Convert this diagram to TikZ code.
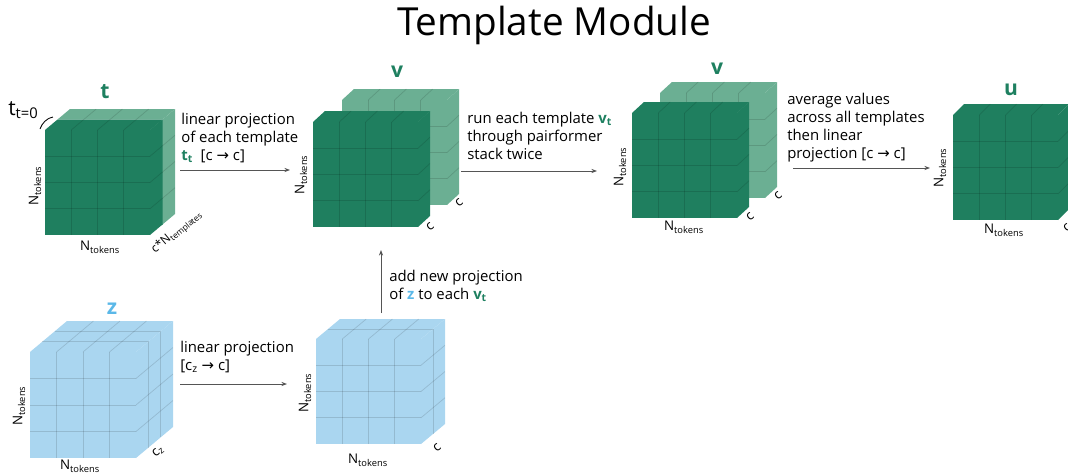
\documentclass[tikz,border=0pt]{standalone}
\usepackage{fontspec}
\setmainfont{Open Sans}
\newfontfamily\symfont{DejaVu Sans}
\usetikzlibrary{arrows.meta}

\definecolor{tgreen}{HTML}{1F7F5F}
\definecolor{tgreenlt}{HTML}{6BAF93}
\definecolor{zblue}{HTML}{AAD6F0}
\definecolor{zlabel}{HTML}{5BB8E8}
\definecolor{vlabel}{HTML}{1E8060}
\definecolor{arrgray}{HTML}{555555}

\newcommand{\sub}[1]{\textsubscript{#1}}
\newcommand{\ntok}{N\sub{tokens}}
\newcommand{\rarr}{{\symfont →}}
\newcommand{\gv}[1]{{\color{vlabel}\bfseries #1}}

% #1,#2 front top-left, #3 size, #4,#5 depth, #6 front fill, #7 top/side fill, #8 depth cells
\newcommand{\slab}[8]{%
  \begin{scope}[shift={(#1,#2)}]
    \fill[#7] (0,0) -- (#3,0) -- ++(#4,#5) -- ++(-#3,0) -- cycle;
    \fill[#7] (#3,0) -- (#3,#3) -- ++(#4,#5) -- ++(0,-#3) -- cycle;
    \fill[#6] (0,0) rectangle (#3,#3);
    \foreach \i in {1,2,3} {
      \draw[gridline] (\i*#3/4,0) -- (\i*#3/4,#3);
      \draw[gridline] (0,\i*#3/4) -- (#3,\i*#3/4);
      \draw[gridline] (\i*#3/4,0) -- ++(#4,#5);
      \draw[gridline] (#3,\i*#3/4) -- ++(#4,#5);
    }
    \ifnum#8>1
      \pgfmathtruncatemacro\kmax{#8-1}
      \foreach \k in {1,...,\kmax} {
        \draw[gridline] (\k*#4/#8,\k*#5/#8) -- ++(#3,0) -- ++(0,#3);
      }
    \fi
  \end{scope}}

\begin{document}
\begin{tikzpicture}[x=0.025cm,y=-0.025cm,
  gridline/.style={draw=black,opacity=0.13,line width=0.5pt},
  lbl/.style={font=\bfseries\fontsize{15}{18}\selectfont,anchor=base,inner sep=0},
  dim/.style={font=\fontsize{9.5}{11}\selectfont,inner sep=0},
  note/.style={font=\fontsize{10.6}{12.8}\selectfont,align=left,anchor=north west,inner sep=0},
  flow/.style={draw=arrgray,line width=0.7pt,-{Stealth[length=4pt,width=3pt]}}]
\useasboundingbox (0,0) rectangle (1068,475);

\node[font=\fontsize{27.5}{30}\selectfont,anchor=base] (title) at (554,35) {Template Module};

% template stack t
\slab{57.5}{119.5}{105}{12.5}{-10.5}{tgreenlt}{tgreenlt}{1}
\slab{45}{130}{105}{12.5}{-10.5}{tgreen}{tgreen}{1}
\node[lbl,text=vlabel] (tlab) at (105,98) {t};
\node[anchor=base west,inner sep=0,font=\fontsize{15}{17}\selectfont] (t0) at (8,115) {t\sub{t=0}};
\draw[line width=0.6pt] (40,129) .. controls (42,123) and (47,118) .. (53,117);
\node[dim,rotate=90] (tnl) at (35,186) {\ntok};
\node[dim] (tnb) at (100,247) {\ntok};
\node[dim,rotate=40,font=\fontsize{8.5}{10}\selectfont] (tnd) at (177,232) {c*N\sub{templates}};

% v after projection
\slab{342}{100}{105}{12}{-11}{tgreenlt}{tgreenlt}{1}
\slab{313}{122}{105}{12}{-11}{tgreen}{tgreen}{1}
\node[lbl,text=vlabel] (v1lab) at (397,77) {v};
\node[dim,rotate=90] (v1nl) at (301,175) {\ntok};
\node[dim,rotate=40] (v1c) at (430,227) {c};
\node[dim,rotate=40] (v1cb) at (459,203) {c};

% v after pairformer
\slab{660}{93}{105}{12}{-11}{tgreenlt}{tgreenlt}{1}
\slab{632}{113}{105}{12}{-11}{tgreen}{tgreen}{1}
\node[lbl,text=vlabel] (v2lab) at (717,74) {v};
\node[dim,rotate=90] (v2nl) at (620,167) {\ntok};
\node[dim] (v2nb) at (684,227) {\ntok};
\node[dim,rotate=40] (v2c) at (750,217) {c};
\node[dim,rotate=40] (v2cb) at (778,196) {c};

% u
\slab{953}{115}{105}{11}{-11}{tgreen}{tgreen}{1}
\node[lbl,text=vlabel] (ulab) at (1011,95) {u};
\node[dim,rotate=90] (unl) at (940,168) {\ntok};
\node[dim] (unb) at (1004,230) {\ntok};
\node[dim,rotate=40] (uc) at (1067,228) {c};

% z
\slab{30}{352}{106}{37}{-31}{zblue}{zblue}{3}
\node[lbl,text=zlabel] (zlab) at (112,314) {z};
\node[dim,rotate=90] (znl) at (19,406) {\ntok};
\node[dim] (znb) at (80,466) {\ntok};
\node[dim,rotate=40] (zc) at (158,452) {c\sub{z}};

% z projected
\slab{316}{339}{105}{24}{-20}{zblue}{zblue}{2}
\node[dim,rotate=90] (z2nl) at (305,393) {\ntok};
\node[dim] (z2nb) at (368,460) {\ntok};
\node[dim,rotate=40] (z2c) at (437,448) {c};

% arrows and notes
\coordinate (a1s) at (180,170);
\coordinate (a1e) at (290,170);
\node[note] (n1) at (181,113) {linear projection\\of each template\\\gv{t\sub{t}}\ \ [c \rarr\ c]};
\draw[flow] (a1s) -- (a1e);

\coordinate (a2s) at (461,171);
\coordinate (a2e) at (597,171);
\node[note] (n2) at (467,112) {run each template \gv{v\sub{t}}\\through pairformer\\stack twice};
\draw[flow] (a2s) -- (a2e);

\coordinate (a3s) at (793,168);
\coordinate (a3e) at (930,168);
\node[note] (n3) at (787,93) {average values\\across all templates\\then linear\\projection [c \rarr\ c]};
\draw[flow] (a3s) -- (a3e);

\coordinate (a4s) at (180,384);
\coordinate (a4e) at (287,384);
\node[note] (n4) at (180,341) {linear projection\\{}[c\sub{z} \rarr\ c]};
\draw[flow] (a4s) -- (a4e);

\coordinate (a5s) at (381,313);
\coordinate (a5e) at (381,250);
\node[note] (n5) at (389,270) {add new projection\\of {\color{zlabel}\bfseries z} to each \gv{v\sub{t}}};
\draw[flow] (a5s) -- (a5e);
\end{tikzpicture}
\end{document}
